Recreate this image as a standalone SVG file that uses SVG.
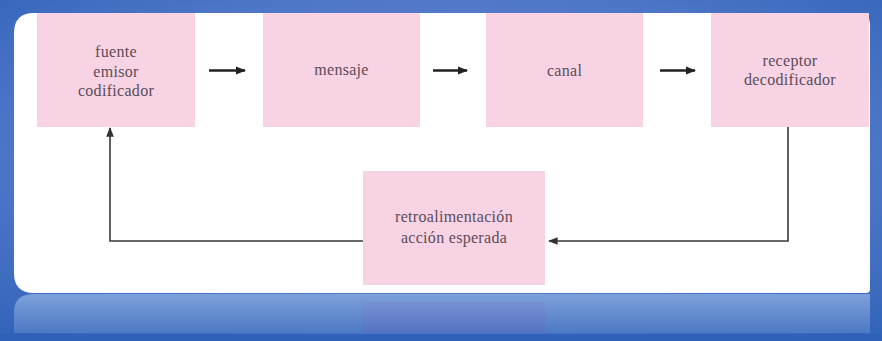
<svg xmlns="http://www.w3.org/2000/svg" width="882" height="341" viewBox="0 0 882 341">
<defs>
<radialGradient id="bg" cx="0.5" cy="0.45" r="0.75">
<stop offset="0" stop-color="#7393d6"/>
<stop offset="0.6" stop-color="#5078c8"/>
<stop offset="1" stop-color="#2f62b8"/>
</radialGradient>
<linearGradient id="refl" x1="0" y1="0" x2="0" y2="1">
<stop offset="0" stop-color="#7da0d9"/>
<stop offset="1" stop-color="#4d79c5"/>
</linearGradient>
<linearGradient id="refl2" x1="0" y1="0" x2="0" y2="1">
<stop offset="0" stop-color="#788fd2"/>
<stop offset="1" stop-color="#5670c0"/>
</linearGradient>
<marker id="ah" viewBox="0 0 10 10" refX="9" refY="5" markerWidth="4" markerHeight="4" orient="auto" markerUnits="strokeWidth">
<path d="M0,1 L10,5 L0,9 z" fill="#222"/>
</marker>
<marker id="ahs" viewBox="0 0 10 10" refX="9" refY="5" markerWidth="6" markerHeight="6" orient="auto" markerUnits="strokeWidth">
<path d="M0,1 L10,5 L0,9 z" fill="#333"/>
</marker>
</defs>
<style>
.box{fill:#f8d3e4}
.t{font-family:"Liberation Serif","DejaVu Serif",serif;font-size:16px;fill:#5b4c57;text-anchor:middle;letter-spacing:0.3px}
.fl{fill:none;stroke:#3a3a3a;stroke-width:1.6}
.ta{fill:none;stroke:#222;stroke-width:2.6}
</style>
<rect x="0" y="0" width="882" height="341" fill="url(#bg)"/>
<rect x="0" y="334" width="882" height="7" fill="#2e61b7"/>
<path d="M14,333 L14,312 Q14,294 34,294 L870,294 L870,333 Z" fill="url(#refl)"/>
<rect x="363" y="302" width="182" height="31" fill="url(#refl2)" opacity="0.8"/>
<path d="M34,13 L858,13 Q870,13 870,25 L870,289 Q870,293 866,293 L34,293 Q14,293 14,273 L14,33 Q14,13 34,13 Z" fill="#ffffff"/>
<g id="connectors">
<line class="ta" x1="209" y1="70.5" x2="245" y2="70.5" marker-end="url(#ah)"/>
<line class="ta" x1="433" y1="70.5" x2="467" y2="70.5" marker-end="url(#ah)"/>
<line class="ta" x1="660" y1="70.5" x2="695" y2="70.5" marker-end="url(#ah)"/>
<polyline class="fl" points="788,127 788,241 549,241" marker-end="url(#ahs)"/>
<polyline class="fl" points="363,241 110,241 110,128" marker-end="url(#ahs)"/>
</g>
<g id="fuente">
<rect class="box" x="37" y="13" width="158" height="114"/>
<text class="t" x="116" y="57">fuente</text>
<text class="t" x="116" y="77">emisor</text>
<text class="t" x="116" y="96">codificador</text>
</g>
<g id="mensaje">
<rect class="box" x="263" y="13" width="157" height="114"/>
<text class="t" x="341.5" y="75">mensaje</text>
</g>
<g id="canal">
<rect class="box" x="486" y="13" width="157" height="114"/>
<text class="t" x="564.5" y="76">canal</text>
</g>
<g id="receptor">
<rect class="box" x="711" y="13" width="158" height="114"/>
<text class="t" x="790" y="66">receptor</text>
<text class="t" x="790" y="85">decodificador</text>
</g>
<g id="retro">
<rect class="box" x="363" y="171" width="182" height="114"/>
<text class="t" x="454" y="222">retroalimentación</text>
<text class="t" x="454" y="243">acción esperada</text>
</g>
</svg>
